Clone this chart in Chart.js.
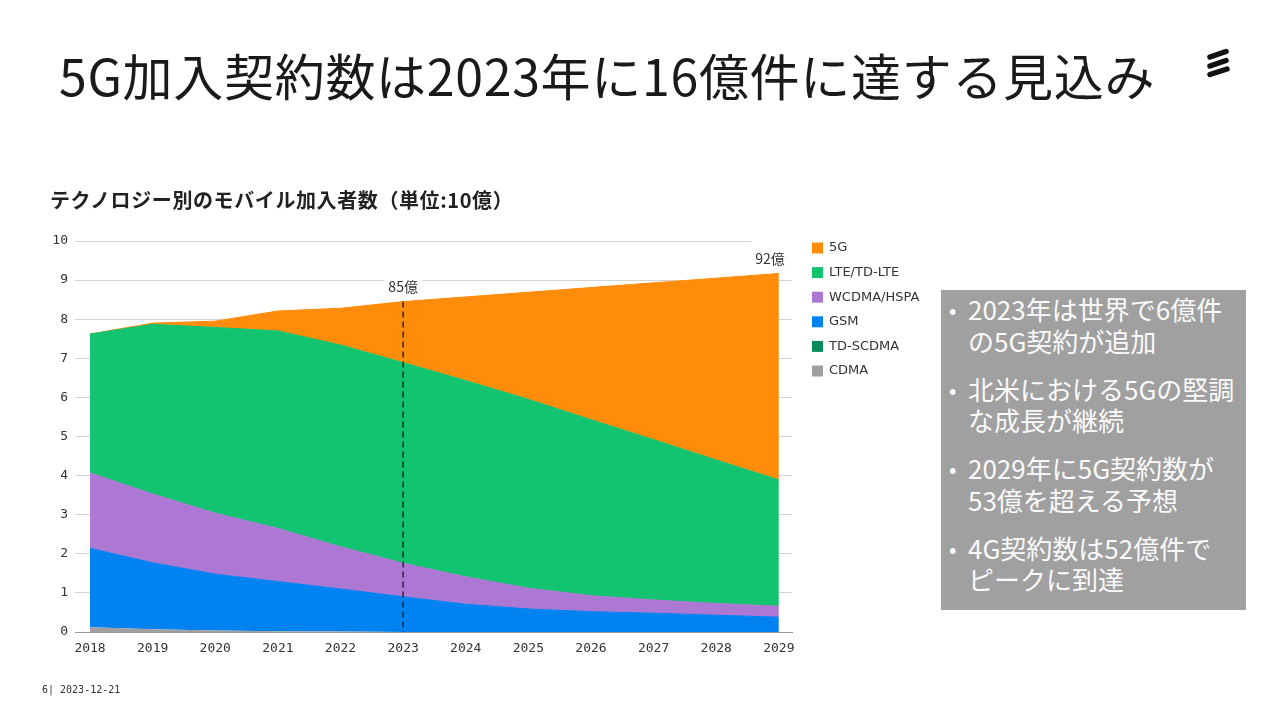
<!DOCTYPE html>
<html lang="ja">
<head>
<meta charset="utf-8">
<title>5G加入契約数</title>
<script src="https://cdn.jsdelivr.net/npm/chart.js"></script>
<style>
  html, body { margin: 0; padding: 0; background: #fff; }
  body { width: 1280px; height: 717px; position: relative; overflow: hidden; font-family: "Noto Sans CJK JP", "Noto Sans", sans-serif; }
  #chart { position: absolute; left: 0; top: 0; }
  .headline { position: absolute; left: 59px; top: 49px; font-size: 50px; line-height: 1; color: #1a1a1a; white-space: nowrap; letter-spacing: 0.7px; }
  .subtitle { position: absolute; left: 50px; top: 190px; font-size: 20px; line-height: 1; font-weight: bold; color: #222; white-space: nowrap; letter-spacing: 0.6px; }
  .logo { position: absolute; left: 1198px; top: 45px; }
  .notes { position: absolute; left: 941px; top: 290px; width: 305px; height: 320px; background: #a0a0a0; box-sizing: border-box; padding-top: 3px; }
  .notes ul { list-style: none; margin: 0; padding: 0; }
  .notes li { position: relative; padding-left: 27px; font-size: 26px; line-height: 31.5px; color: #fafafa; margin-bottom: 16.5px; white-space: nowrap; }
  .notes li::before { content: "•"; position: absolute; left: 8px; top: 0; font-size: 22px; }
  .footer { position: absolute; left: 42px; top: 684px; font-family: "DejaVu Sans Mono", monospace; font-size: 10px; color: #333; }
</style>
</head>
<body>
<canvas id="chart" width="1280" height="717"></canvas>

<div class="headline">5G加入契約数は2023年に16億件に達する見込み</div>
<div class="subtitle">テクノロジー別のモバイル加入者数（単位:10億）</div>

<svg class="logo" width="40" height="40" viewBox="0 0 40 40">
  <g stroke="#111" stroke-width="5.5" stroke-linecap="round">
    <line x1="12" y1="12" x2="28" y2="6.5"/>
    <line x1="12" y1="21" x2="28" y2="15.5"/>
    <line x1="12" y1="29.5" x2="29" y2="24"/>
  </g>
</svg>

<div class="notes">
  <ul>
    <li>2023年は世界で6億件<br>の5G契約が追加</li>
    <li>北米における5Gの堅調<br>な成長が継続</li>
    <li>2029年に5G契約数が<br>53億を超える予想</li>
    <li>4G契約数は52億件で<br>ピークに到達</li>
  </ul>
</div>

<div class="footer">6| 2023-12-21</div>

<script>
// 年
const years = [2018, 2019, 2020, 2021, 2022, 2023, 2024, 2025, 2026, 2027, 2028, 2029];

// 加入者数（10億） - 下から積み上げ
const cdma    = [0.12, 0.07, 0.04, 0.02, 0.01, 0, 0, 0, 0, 0, 0, 0];
const tdScdma = [0, 0, 0, 0, 0, 0, 0, 0, 0, 0, 0, 0];
const gsm     = [2.02, 1.70, 1.44, 1.27, 1.09, 0.90, 0.71, 0.59, 0.52, 0.48, 0.43, 0.38];
const wcdma   = [1.93, 1.76, 1.56, 1.36, 1.08, 0.86, 0.70, 0.53, 0.41, 0.34, 0.30, 0.28];
const lte     = [3.55, 4.34, 4.75, 5.05, 5.16, 5.13, 5.02, 4.83, 4.50, 4.10, 3.67, 3.23];
const nr5g    = [0, 0.03, 0.16, 0.51, 0.94, 1.56, 2.14, 2.74, 3.38, 4.01, 4.65, 5.28];

// 目盛り
const yTicks = [0, 1, 2, 3, 4, 5, 6, 7, 8, 9, 10];

// 合計の注記
const calloutYears = [2023, 2029];
const calloutTexts = ['85億', '92億'];

const series = [
  { label: 'CDMA',        values: cdma,    color: '#a0a0a0' },
  { label: 'TD-SCDMA',    values: tdScdma, color: '#0a8c5a' },
  { label: 'GSM',         values: gsm,     color: '#0082f0' },
  { label: 'WCDMA/HSPA',  values: wcdma,   color: '#ad78d4' },
  { label: 'LTE/TD-LTE',  values: lte,     color: '#12c36f' },
  { label: '5G',          values: nr5g,    color: '#ff8c0a' }
];

const datasets = series.map((s, i) => ({
  label: s.label,
  data: years.map((y, j) => ({ x: y, y: s.values[j] })),
  backgroundColor: s.color,
  borderColor: i < 2 ? 'rgba(0,0,0,0)' : s.color,
  borderWidth: 1,
  pointRadius: 0,
  tension: 0,
  fill: i === 0 ? 'origin' : '-1'
}));

// 注記・破線・凡例
const overlay = {
  id: 'overlay',
  afterDatasetsDraw(chart) {
    const ctx = chart.ctx;
    const xs = chart.scales.x;
    const area = chart.chartArea;
    const topMeta = chart.getDatasetMeta(datasets.length - 1);

    calloutYears.forEach((yr, k) => {
      const idx = years.indexOf(yr);
      const px = xs.getPixelForValue(yr);
      const py = topMeta.data[idx].y;
      const isLast = idx === years.length - 1;

      // 破線（最初の注記のみ）
      if (!isLast) {
        ctx.save();
        ctx.strokeStyle = '#222';
        ctx.lineWidth = 1.4;
        ctx.setLineDash([6, 4]);
        ctx.beginPath();
        ctx.moveTo(px, py);
        ctx.lineTo(px, area.bottom);
        ctx.stroke();
        ctx.restore();
      }

      ctx.save();
      ctx.font = '14px "Noto Sans CJK JP", "DejaVu Sans", sans-serif';
      const w = ctx.measureText(calloutTexts[k]).width;
      const cx = isLast ? px + 6 - w / 2 : px;
      const cy = py - 15;
      ctx.fillStyle = '#fff';
      const left = cx - w / 2 - 4;
      const right = isLast ? area.right + 1 : cx + w / 2 + 4;
      ctx.fillRect(left, cy - 19, right - left, 30);
      ctx.fillStyle = '#333';
      ctx.textAlign = 'center';
      ctx.textBaseline = 'middle';
      ctx.fillText(calloutTexts[k], cx, cy);
      ctx.restore();
    });

    // 凡例
    ctx.save();
    ctx.font = '13px "DejaVu Sans", sans-serif';
    ctx.textBaseline = 'middle';
    const lx = area.right + 20;
    [...series].reverse().forEach((s, i) => {
      const ly = area.top + 7 + i * 24.6;
      ctx.fillStyle = s.color;
      ctx.fillRect(lx, ly - 5.5, 11, 11);
      ctx.fillStyle = '#333';
      ctx.fillText(s.label, lx + 17, ly);
    });
    ctx.restore();
  }
};

new Chart(document.getElementById('chart'), {
  type: 'line',
  data: { datasets },
  options: {
    responsive: false,
    animation: false,
    layout: { padding: { left: 35, top: 241, right: 488, bottom: 55 } },
    plugins: { legend: { display: false }, tooltip: { enabled: false } },
    scales: {
      x: {
        type: 'linear',
        min: 2017.76,
        max: 2029.21,
        afterBuildTicks: s => { s.ticks = years.map(v => ({ value: v })); },
        afterFit: s => { s.height = 30; },
        grid: { display: false },
        border: { display: true, color: '#999', width: 1, z: 1 },
        ticks: {
          autoSkip: false,
          maxRotation: 0,
          padding: 1,
          color: '#333',
          font: { family: '"DejaVu Sans Mono", monospace', size: 13 },
          callback: v => String(v)
        }
      },
      y: {
        stacked: true,
        min: 0,
        max: 10,
        afterBuildTicks: s => { s.ticks = yTicks.map(v => ({ value: v })); },
        afterFit: s => { s.width = 40; },
        grid: { color: '#d4d4d4', drawTicks: false },
        border: { display: false },
        ticks: {
          padding: 7,
          color: '#333',
          font: { family: '"DejaVu Sans Mono", monospace', size: 13 }
        }
      }
    }
  },
  plugins: [overlay]
});
</script>
</body>
</html>
